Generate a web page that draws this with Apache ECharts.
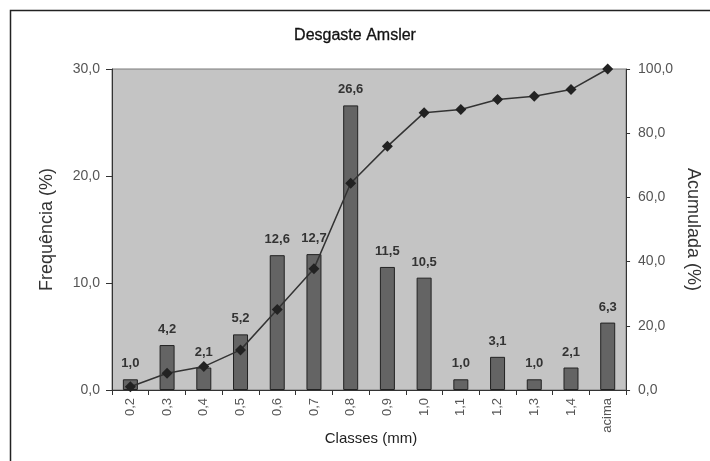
<!DOCTYPE html>
<html><head><meta charset="utf-8">
<script src="https://cdn.jsdelivr.net/npm/echarts@6/dist/echarts.min.js"></script>
<style>html,body{margin:0;padding:0;background:#fff}#c{width:710px;height:461px}</style>
</head><body><div id="c"></div>
<script>
var categories = ['0,2','0,3','0,4','0,5','0,6','0,7','0,8','0,9','1,0','1,1','1,2','1,3','1,4','acima'];
var frequencia = [1.0,4.2,2.1,5.2,12.6,12.7,26.6,11.5,10.5,1.0,3.1,1.0,2.1,6.3];
var acumulada = [1.0,5.2,7.3,12.5,25.1,37.8,64.4,75.9,86.4,87.4,90.5,91.5,93.6,100.0];
var leftTicks = {min:0, max:30, interval:10};
var rightTicks = {min:0, max:100, interval:20};

var fmt = function(v){ return Number(v).toFixed(1).replace('.', ','); };
var FONT = 'Liberation Sans, Arial, sans-serif';
var chart = echarts.init(document.getElementById('c'));
chart.setOption({
  backgroundColor:'#fff',
  animation:false,
  textStyle:{fontFamily:FONT},
  title:[
    {text:'Desgaste Amsler', left:'center', top:23,
     textStyle:{fontFamily:FONT, fontSize:16, fontWeight:'normal', color:'#111',
       textBorderColor:'#111', textBorderWidth:0.3}},
    {text:'Classes (mm)', left:371, top:431, textAlign:'center', padding:0,
     textStyle:{fontFamily:FONT, fontSize:15, fontWeight:'normal', color:'#222'}}
  ],
  graphic:[{type:'rect', left:8, top:8, shape:{width:702, height:470},
    style:{fill:'none', stroke:'#222', lineWidth:1.5}, silent:true}],
  grid:{left:112, right:80, top:69, bottom:71, show:true, backgroundColor:'#c4c4c4',
    borderColor:'#7a7a7a', borderWidth:1},
  xAxis:{type:'category', data:categories, boundaryGap:true,
    axisLine:{lineStyle:{color:'#333', width:1}},
    axisTick:{show:true, alignWithLabel:false, length:5, lineStyle:{color:'#333'}},
    axisLabel:{rotate:90, fontSize:13, color:'#555', margin:8}},
  yAxis:[
    {type:'value', min:leftTicks.min, max:leftTicks.max, interval:leftTicks.interval, position:'left',
     name:'Frequência (%)', nameLocation:'middle', nameGap:56, nameRotate:90,
     nameTextStyle:{fontSize:18, color:'#333', fontFamily:FONT},
     axisLine:{show:true, lineStyle:{color:'#333'}},
     axisTick:{show:true, length:6, lineStyle:{color:'#333'}},
     splitLine:{show:false},
     axisLabel:{formatter:fmt, fontSize:14, color:'#555', margin:12}},
    {type:'value', min:rightTicks.min, max:rightTicks.max, interval:rightTicks.interval, position:'right',
     name:'Acumulada (%)', nameLocation:'middle', nameGap:50, nameRotate:-90,
     nameTextStyle:{fontSize:18, color:'#333', fontFamily:FONT},
     axisLine:{show:true, lineStyle:{color:'#333'}},
     axisTick:{show:true, length:4, lineStyle:{color:'#333'}},
     splitLine:{show:false},
     axisLabel:{formatter:fmt, fontSize:14, color:'#555', margin:12}}
  ],
  series:[
    {type:'bar', yAxisIndex:0, data:frequencia, barWidth:15,
     itemStyle:{color:'#646464', borderColor:'#222', borderWidth:1},
     label:{show:true, position:'top', distance:9, formatter:function(p){return fmt(p.value);},
       fontSize:13, fontWeight:'bold', color:'#333', fontFamily:FONT}},
    {type:'line', yAxisIndex:1, data:acumulada, symbol:'diamond', symbolSize:11,
     lineStyle:{color:'#333', width:1.5}, itemStyle:{color:'#222'}, z:5}
  ]
});
</script></body></html>
